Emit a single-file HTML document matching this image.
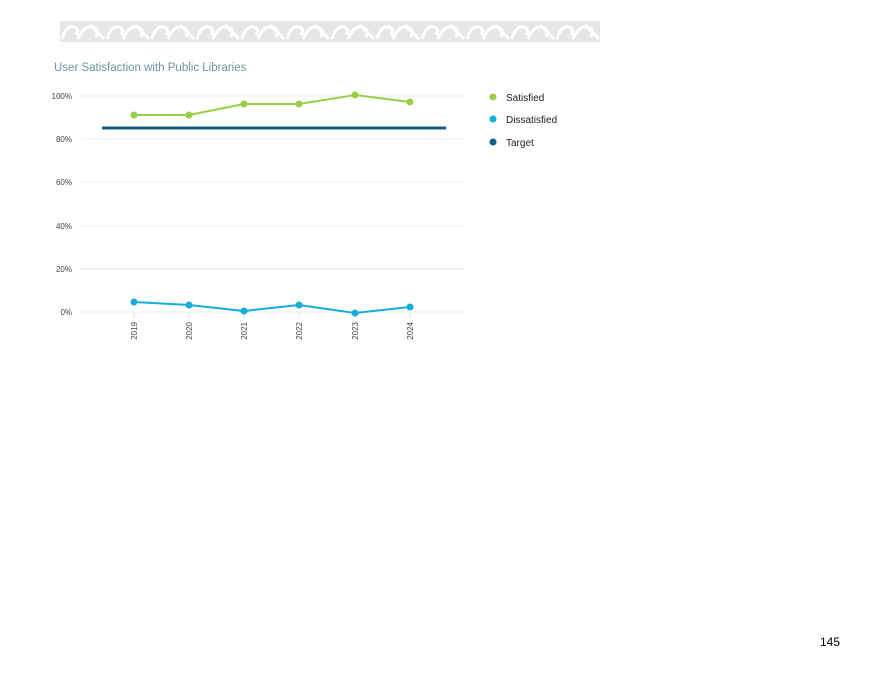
<!DOCTYPE html>
<html><head><meta charset="utf-8"><style>
html,body{margin:0;padding:0;background:#fff;width:894px;height:675px;overflow:hidden;font-family:"Liberation Sans",sans-serif;}
</style></head><body>
<svg width="894" height="675" xmlns="http://www.w3.org/2000/svg">
<defs>
<pattern id="p" x="60" y="21" width="45" height="21" patternUnits="userSpaceOnUse">
<rect width="45" height="21" fill="#e6e6e6"/>
<path d="M2 18 Q6 4 14 6 Q20 8 16 14 M18 18 Q24 4 32 6 Q40 8 36 16 M30 4 L44 18" stroke="#ffffff" stroke-width="3" fill="none"/>
</pattern>
</defs>
<rect x="60" y="21" width="540" height="21" fill="url(#p)"/>
<text x="54" y="71" font-size="11.5" fill="#6a93a6">User Satisfaction with Public Libraries</text>
<g stroke="#e3eef3" stroke-width="1">
<line x1="81" y1="96" x2="465" y2="96"/>
<line x1="81" y1="139" x2="465" y2="139"/>
<line x1="81" y1="182" x2="465" y2="182"/>
<line x1="81" y1="226" x2="465" y2="226"/>
<line x1="81" y1="269" x2="465" y2="269" stroke="#d0e2ea"/>
<line x1="81" y1="312" x2="465" y2="312"/>
</g>
<g font-size="8" fill="#444" text-anchor="end">
<text x="72" y="99">100%</text><text x="72" y="142">80%</text><text x="72" y="185">60%</text>
<text x="72" y="229">40%</text><text x="72" y="272">20%</text><text x="72" y="315">0%</text>
</g>
<g stroke="#d6e3ea"><line x1="134" y1="312" x2="134" y2="318"/><line x1="189" y1="312" x2="189" y2="318"/><line x1="244" y1="312" x2="244" y2="318"/><line x1="299" y1="312" x2="299" y2="318"/><line x1="355" y1="312" x2="355" y2="318"/><line x1="410" y1="312" x2="410" y2="318"/></g>
<g font-size="8" fill="#444" text-anchor="end">
<text transform="translate(137,322) rotate(-90)">2019</text>
<text transform="translate(192,322) rotate(-90)">2020</text>
<text transform="translate(247,322) rotate(-90)">2021</text>
<text transform="translate(302,322) rotate(-90)">2022</text>
<text transform="translate(358,322) rotate(-90)">2023</text>
<text transform="translate(413,322) rotate(-90)">2024</text>
</g>
<line x1="102" y1="128" x2="446" y2="128" stroke="#0e5f86" stroke-width="3"/>
<polyline points="134,115 189,115 244,104 299,104 355,95 410,102" fill="none" stroke="#99cf47" stroke-width="2"/>
<g fill="#99cf47"><circle cx="134" cy="115" r="3.5"/><circle cx="189" cy="115" r="3.5"/><circle cx="244" cy="104" r="3.5"/><circle cx="299" cy="104" r="3.5"/><circle cx="355" cy="95" r="3.5"/><circle cx="410" cy="102" r="3.5"/></g>
<polyline points="134,302 189,305 244,311 299,305 355,313 410,307" fill="none" stroke="#13afd6" stroke-width="2"/>
<g fill="#13afd6"><circle cx="134" cy="302" r="3.5"/><circle cx="189" cy="305" r="3.5"/><circle cx="244" cy="311" r="3.5"/><circle cx="299" cy="305" r="3.5"/><circle cx="355" cy="313" r="3.5"/><circle cx="410" cy="307" r="3.5"/></g>
<circle cx="493" cy="97" r="3.5" fill="#99cf47"/><text x="506" y="101" font-size="10" fill="#222">Satisfied</text>
<circle cx="493" cy="119" r="3.5" fill="#13afd6"/><text x="506" y="123" font-size="10" fill="#222">Dissatisfied</text>
<circle cx="493" cy="142" r="3.5" fill="#0e5f86"/><text x="506" y="146" font-size="10" fill="#222">Target</text>
<text x="820" y="646" font-size="12" fill="#000">145</text>
</svg>
</body></html>
